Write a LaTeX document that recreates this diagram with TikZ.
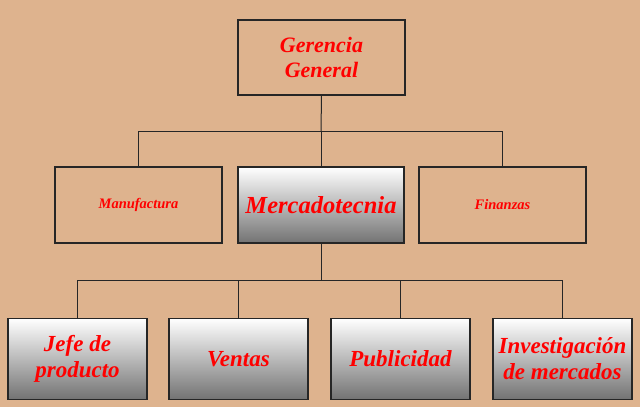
\documentclass[tikz,border=0pt]{standalone}
\usepackage{fontspec}
\setmainfont{Liberation Serif}
\begin{document}
\begin{tikzpicture}[x=1pt,y=-1pt,
 box/.style={draw=black!85,line width=1.2pt,minimum width=#1,font=\bfseries\itshape,text=red,align=center,inner sep=0pt},
 grad/.style={top color=white,bottom color=black!55},
 ln/.style={draw=black!85,line width=1pt}]
\fill[fill={rgb,255:red,222;green,179;blue,142}] (0,0) rectangle (640,407);
\useasboundingbox (0,0) rectangle (640,407);
\node[box=167pt,minimum height=75pt,font=\fontsize{22}{25}\selectfont\bfseries\itshape] (gg) at (321.5,57.5) {Gerencia\\General};
\node[box=167pt,minimum height=76pt,font=\fontsize{14.5}{17}\selectfont\bfseries\itshape] (man) at (138.5,205) {Manufactura};
\node[box=166pt,minimum height=76pt,grad,font=\fontsize{24.5}{28}\selectfont\bfseries\itshape] (mer) at (321,205) {Mercadotecnia};
\node[box=167pt,minimum height=76pt,font=\fontsize{14.5}{17}\selectfont\bfseries\itshape] (fin) at (502.5,205) {Finanzas};
\tikzset{bot/.style={box=139pt,minimum height=81pt,grad,font=\fontsize{23}{26}\selectfont\bfseries\itshape}}
\node[bot] (j) at (77.5,359) {Jefe de\\producto};
\node[bot] (v) at (238.5,359) {Ventas};
\node[bot] (p) at (400.5,359) {Publicidad};
\node[bot] (i) at (562.5,359) {Investigación\\de mercados};
\coordinate (h1) at (321,131);
\draw[ln] (gg.south) -- (h1);
\draw[ln] (man.north) -- (man.north|-h1) -- (fin.north|-h1) -- (fin.north);
\draw[ln] (mer.north) -- (h1);
\coordinate (h2) at (321,280);
\draw[ln] (mer.south) -- (h2);
\draw[ln] (j.north) -- (j.north|-h2) -- (i.north|-h2) -- (i.north);
\draw[ln] (v.north) -- (v.north|-h2);
\draw[ln] (p.north) -- (p.north|-h2);
\end{tikzpicture}
\end{document}
